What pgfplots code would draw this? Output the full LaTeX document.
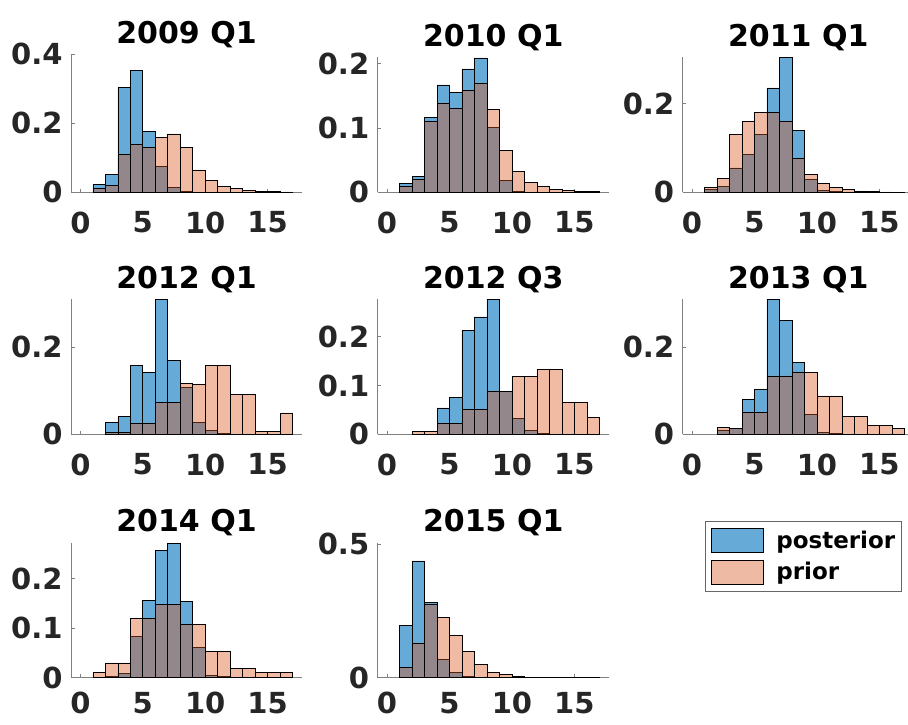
\documentclass[border=0pt]{standalone}
\usepackage{fontspec}
\setmainfont{DejaVu Sans}
\usepackage{pgfplots}
\pgfplotsset{compat=1.18}

\definecolor{mblue}{rgb}{0,0.447,0.741}
\definecolor{morange}{rgb}{0.85,0.325,0.098}
\definecolor{ticktext}{rgb}{0.15,0.15,0.15}

\newcommand\tickfont{\fontsize{29}{29}\selectfont\bfseries}
\newcommand\titlefont{\fontsize{30}{30}\selectfont\bfseries}
\newcommand\legfont{\fontsize{23}{23}\selectfont\bfseries}

\pgfplotsset{
  panel/.style={
    scale only axis, width=231pt, height=135pt,
    xmin=-0.75, xmax=17.75, ymin=0,
    axis x line*=bottom, axis y line*=left,
    xtick={0,5,10,15},
    tick align=inside, major tick length=3.5pt,
    axis line style={black!50, line width=0.7pt},
    major tick style={black!50, line width=0.7pt},
    tick label style={font=\tickfont, text=ticktext},
    /pgf/number format/assume math mode=true,
    xticklabel style={yshift=-16pt},
    yticklabel style={xshift=-5pt},
    title style={font=\titlefont, at={(0.5,1)}, anchor=south, yshift=-3pt},
  },
  lastrow/.style={xticklabel style={yshift=5pt}},
  post/.style={ybar interval, fill=mblue, fill opacity=0.6, draw=black, line width=0.6pt},
  prio/.style={ybar interval, fill=morange, fill opacity=0.4, draw=black, line width=0.6pt},
  legpatch/.style={legend image code/.code={\draw[##1] (0pt,-12pt) rectangle (51.6pt,12pt);}},
}

\begin{document}
\begin{tikzpicture}
\useasboundingbox (0pt,0pt) rectangle (908pt,-725pt);

% 2009 Q1
\begin{axis}[panel, at={(71pt,-192.3pt)}, anchor=south west, height=138pt,
  ymax=0.4, ytick={0,0.2,0.4}, title={2009 Q1}]
\addplot[post] coordinates {(1,0.023) (2,0.053) (3,0.304) (4,0.353) (5,0.177) (6,0.074) (7,0.0135) (8,0.002)
  (9,0) (10,0) (11,0) (12,0) (13,0) (14,0) (15,0) (16,0) (17,0)};
\addplot[prio] coordinates {(1,0.011) (2,0.021) (3,0.110) (4,0.140) (5,0.130) (6,0.159) (7,0.169) (8,0.130)
  (9,0.065) (10,0.035) (11,0.018) (12,0.011) (13,0.006) (14,0.003) (15,0.002) (16,0.001) (17,0)};
\end{axis}

% 2010 Q1
\begin{axis}[panel, at={(377.7pt,-192.3pt)}, anchor=south west,
  ymax=0.21, ytick={0,0.1,0.2}, title={2010 Q1}]
\addplot[post] coordinates {(1,0.014) (2,0.025) (3,0.117) (4,0.167) (5,0.156) (6,0.192) (7,0.209) (8,0.101)
  (9,0.018) (10,0.001) (11,0) (12,0) (13,0) (14,0) (15,0) (16,0) (17,0)};
\addplot[prio] coordinates {(1,0.010) (2,0.020) (3,0.110) (4,0.139) (5,0.130) (6,0.158) (7,0.169) (8,0.129)
  (9,0.065) (10,0.033) (11,0.016) (12,0.009) (13,0.005) (14,0.003) (15,0.0015) (16,0.001) (17,0)};
\end{axis}

% 2011 Q1
\begin{axis}[panel, at={(682.7pt,-192.3pt)}, anchor=south west,
  ymax=0.305, ytick={0,0.2}, title={2011 Q1}]
\addplot[post] coordinates {(1,0.007) (2,0.013) (3,0.055) (4,0.085) (5,0.130) (6,0.236) (7,0.305) (8,0.140)
  (9,0.029) (10,0.004) (11,0.0015) (12,0) (13,0) (14,0) (15,0) (16,0) (17,0)};
\addplot[prio] coordinates {(1,0.011) (2,0.031) (3,0.131) (4,0.161) (5,0.181) (6,0.181) (7,0.161) (8,0.076)
  (9,0.040) (10,0.020) (11,0.0105) (12,0.006) (13,0.003) (14,0.0015) (15,0.001) (16,0.0005) (17,0)};
\end{axis}

% 2012 Q1
\begin{axis}[panel, at={(71pt,-434.3pt)}, anchor=south west,
  ymax=0.31, ytick={0,0.2}, title={2012 Q1}]
\addplot[post] coordinates {(2,0.028) (3,0.041) (4,0.159) (5,0.143) (6,0.310) (7,0.170) (8,0.108)
  (9,0.028) (10,0.0085) (11,0.0015) (12,0) (13,0) (14,0) (15,0) (16,0) (17,0)};
\addplot[prio] coordinates {(2,0.005) (3,0.005) (4,0.025) (5,0.025) (6,0.073) (7,0.073) (8,0.117)
  (9,0.115) (10,0.159) (11,0.159) (12,0.092) (13,0.092) (14,0.006) (15,0.006) (16,0.049) (17,0)};
\end{axis}

% 2012 Q3
\begin{axis}[panel, at={(377.7pt,-434.3pt)}, anchor=south west,
  ymax=0.277, ytick={0,0.1,0.2}, title={2012 Q3}]
\addplot[post] coordinates {(2,0) (3,0) (4,0.054) (5,0.075) (6,0.213) (7,0.241) (8,0.277)
  (9,0.088) (10,0.033) (11,0.0075) (12,0.002) (13,0) (14,0) (15,0) (16,0) (17,0)};
\addplot[prio] coordinates {(2,0.0055) (3,0.0055) (4,0.023) (5,0.023) (6,0.051) (7,0.051) (8,0.088)
  (9,0.088) (10,0.118) (11,0.118) (12,0.133) (13,0.133) (14,0.066) (15,0.066) (16,0.034) (17,0)};
\end{axis}

% 2013 Q1
\begin{axis}[panel, at={(682.7pt,-434.3pt)}, anchor=south west,
  ymax=0.31, ytick={0,0.2}, title={2013 Q1}]
\addplot[post] coordinates {(2,0.010) (3,0.014) (4,0.080) (5,0.103) (6,0.310) (7,0.261) (8,0.166)
  (9,0.046) (10,0.005) (11,0.002) (12,0) (13,0) (14,0) (15,0) (16,0) (17,0)};
\addplot[prio] coordinates {(2,0.015) (3,0.014) (4,0.051) (5,0.051) (6,0.134) (7,0.134) (8,0.143)
  (9,0.143) (10,0.088) (11,0.088) (12,0.041) (13,0.041) (14,0.020) (15,0.020) (16,0.014) (17,0)};
\end{axis}

% 2014 Q1
\begin{axis}[panel, lastrow, at={(71pt,-677.7pt)}, anchor=south west,
  ymax=0.273, ytick={0,0.1,0.2}, title={2014 Q1}]
\addplot[post] coordinates {(1,0) (2,0.002) (3,0.009) (4,0.083) (5,0.156) (6,0.258) (7,0.272) (8,0.154)
  (9,0.061) (10,0.005) (11,0.002) (12,0) (13,0) (14,0) (15,0) (16,0) (17,0)};
\addplot[prio] coordinates {(1,0.010) (2,0.030) (3,0.030) (4,0.120) (5,0.120) (6,0.149) (7,0.149) (8,0.108)
  (9,0.108) (10,0.054) (11,0.054) (12,0.019) (13,0.019) (14,0.010) (15,0.010) (16,0.010) (17,0)};
\end{axis}

% 2015 Q1
\begin{axis}[panel, lastrow, at={(377.7pt,-677.7pt)}, anchor=south west,
  ymax=0.505, ytick={0,0.5}, title={2015 Q1},
  legend style={at={(1.416,1.163)}, anchor=north west, draw=black!60, line width=0.6pt,
    fill=white, font=\legfont, inner xsep=6pt, inner ysep=7pt, row sep=7pt,
    column sep=13pt, nodes={inner xsep=0pt},
    cells={anchor=west}}]
\addplot[post, legpatch] coordinates {(1,0.195) (2,0.437) (3,0.283) (4,0.068) (5,0.020) (6,0.004) (7,0) (8,0)
  (9,0) (10,0) (11,0) (12,0) (13,0) (14,0) (15,0) (16,0) (17,0)};
\addplot[prio, legpatch] coordinates {(1,0.038) (2,0.128) (3,0.275) (4,0.227) (5,0.158) (6,0.098) (7,0.051) (8,0.021)
  (9,0.012) (10,0.006) (11,0.0025) (12,0.001) (13,0.001) (14,0.0005) (15,0.0005) (16,0.0005) (17,0)};
\legend{posterior, prior}
\end{axis}
\end{tikzpicture}
\end{document}
